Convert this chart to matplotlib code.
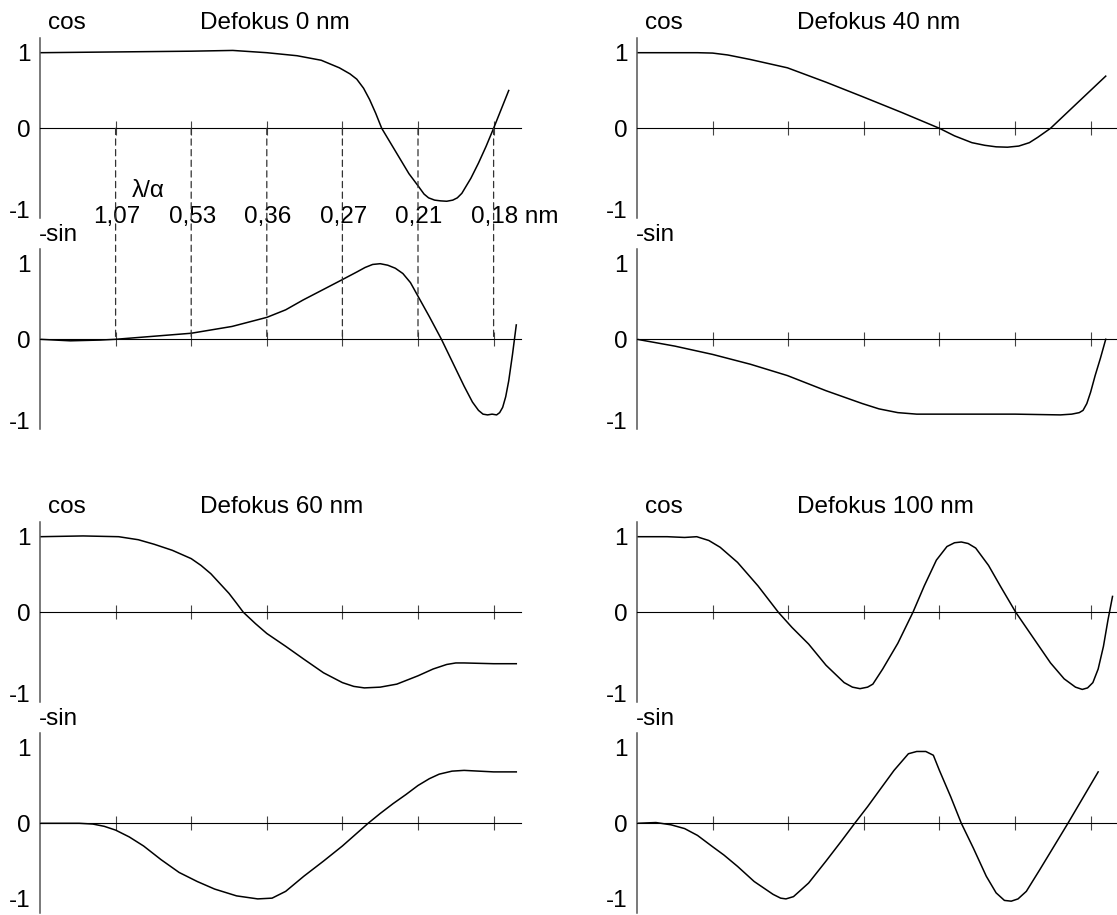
import matplotlib
matplotlib.use("Agg")
import matplotlib.pyplot as plt
from matplotlib.patches import ConnectionPatch

plt.rcParams['font.family'] = ['Liberation Sans', 'DejaVu Sans']
plt.rcParams['font.size'] = 17.5

# data (x in units of the tick spacing)
x_cos0 = [0, 1.0, 2.0, 2.55, 3.0, 3.4, 3.72, 3.96, 4.1, 4.19, 4.28, 4.36, 4.44, 4.52, 4.64, 4.76, 4.88, 5.0, 5.08,
          5.14, 5.22, 5.3, 5.38, 5.46, 5.52, 5.58, 5.7, 5.8, 5.9, 6.0, 6.1, 6.2]
y_cos0 = [1.0, 1.01, 1.02, 1.03, 1.0, 0.96, 0.90, 0.80, 0.72, 0.65, 0.53, 0.38, 0.2, 0.0, -0.2, -0.4, -0.6, -0.76, -0.87,
          -0.92, -0.95, -0.96, -0.965, -0.95, -0.92, -0.86, -0.66, -0.46, -0.24, 0.0, 0.25, 0.5]
x_sin0 = [0, 0.4, 0.8, 1.0, 1.5, 2.0, 2.54, 3.0, 3.25, 3.48, 3.75, 4.0, 4.19, 4.3, 4.4, 4.5, 4.6, 4.7, 4.8, 4.9, 5.0,
          5.15, 5.31, 5.46, 5.61, 5.72, 5.8, 5.86, 5.92, 5.98, 6.04, 6.08, 6.12, 6.16, 6.2, 6.25, 6.3]
y_sin0 = [0, -0.02, -0.01, 0, 0.04, 0.08, 0.17, 0.29, 0.39, 0.52, 0.66, 0.79, 0.89, 0.95, 0.99, 1.0, 0.98, 0.94, 0.87,
          0.75, 0.57, 0.3, 0.0, -0.31, -0.62, -0.83, -0.94, -0.99, -1.0, -0.99, -1.0, -0.97, -0.9, -0.76, -0.55, -0.2, 0.19]

x_cos40 = [0, 0.8, 1.0, 1.2, 1.5, 1.99, 2.5, 2.98, 3.5, 4.0, 4.2, 4.43, 4.6, 4.75, 4.9, 5.05, 5.19, 5.3, 5.47, 5.84, 6.2]
y_cos40 = [1.0, 1.0, 0.995, 0.97, 0.91, 0.80, 0.61, 0.42, 0.21, 0.0, -0.1, -0.19, -0.225, -0.245, -0.25, -0.235, -0.19,
           -0.12, 0.0, 0.35, 0.69]
x_sin40 = [0, 0.5, 1.0, 1.5, 1.99, 2.5, 2.98, 3.2, 3.45, 3.7, 4.0, 5.0, 5.6, 5.75, 5.85, 5.9, 5.95, 6.0, 6.06, 6.13, 6.2]
y_sin40 = [0, -0.09, -0.20, -0.33, -0.48, -0.68, -0.85, -0.92, -0.97, -0.99, -0.99, -0.99, -1.0, -0.99, -0.97, -0.94,
           -0.85, -0.7, -0.48, -0.25, 0.0]

x_cos60 = [0, 0.57, 1.04, 1.3, 1.51, 1.75, 2.0, 2.13, 2.26, 2.38, 2.5, 2.6, 2.69, 2.85, 3.0, 3.25, 3.49, 3.75, 4.0, 4.15,
           4.29, 4.5, 4.72, 5.0, 5.2, 5.38, 5.5, 5.61, 6.0, 6.3]
y_cos60 = [1.0, 1.01, 1.0, 0.96, 0.90, 0.82, 0.71, 0.62, 0.51, 0.38, 0.25, 0.12, 0.0, -0.15, -0.28, -0.45, -0.62, -0.8,
           -0.93, -0.98, -1.0, -0.99, -0.95, -0.84, -0.75, -0.69, -0.67, -0.67, -0.68, -0.68]
x_sin60 = [0, 0.52, 0.7, 0.85, 1.0, 1.18, 1.37, 1.6, 1.84, 2.08, 2.31, 2.6, 2.88, 3.07, 3.25, 3.49, 3.75, 4.0, 4.17,
           4.34, 4.5, 4.67, 4.84, 5.0, 5.15, 5.28, 5.45, 5.61, 6.0, 6.3]
y_sin60 = [0, 0, -0.01, -0.04, -0.09, -0.18, -0.30, -0.48, -0.65, -0.77, -0.87, -0.96, -1.0, -0.99, -0.9, -0.70, -0.5,
           -0.30, -0.15, 0.0, 0.13, 0.26, 0.38, 0.50, 0.59, 0.65, 0.69, 0.70, 0.68, 0.68]

x_cos100 = [0, 0.4, 0.63, 0.79, 0.95, 1.1, 1.33, 1.6, 1.87, 2.05, 2.27, 2.5, 2.74, 2.85, 2.95, 3.05, 3.12, 3.25, 3.45,
            3.65, 3.8, 3.96, 4.1, 4.2, 4.29, 4.38, 4.48, 4.65, 4.81, 5.01, 5.25, 5.47, 5.65, 5.8, 5.89, 5.96, 6.03, 6.1,
            6.17, 6.23, 6.29]
y_cos100 = [1.0, 1.0, 0.99, 1.0, 0.95, 0.86, 0.66, 0.35, 0.0, -0.2, -0.42, -0.7, -0.93, -0.99, -1.01, -0.99, -0.95,
            -0.75, -0.41, 0.0, 0.35, 0.69, 0.87, 0.92, 0.93, 0.91, 0.85, 0.62, 0.34, 0.0, -0.35, -0.67, -0.88, -0.99,
            -1.02, -1.0, -0.93, -0.75, -0.45, -0.1, 0.21]
x_sin100 = [0, 0.25, 0.45, 0.63, 0.8, 1.0, 1.15, 1.33, 1.55, 1.80, 1.9, 1.97, 2.07, 2.27, 2.5, 2.7, 2.88, 3.05, 3.21,
            3.4, 3.59, 3.7, 3.82, 3.92, 4.0, 4.15, 4.29, 4.45, 4.62, 4.75, 4.86, 4.95, 5.04, 5.15, 5.33, 5.5, 5.70,
            5.9, 6.10]
y_sin100 = [0, 0.01, -0.02, -0.07, -0.16, -0.31, -0.42, -0.57, -0.77, -0.94, -0.99, -1.0, -0.97, -0.79, -0.5, -0.24,
            0.0, 0.22, 0.44, 0.7, 0.92, 0.95, 0.95, 0.90, 0.7, 0.35, 0.0, -0.33, -0.70, -0.92, -1.02, -1.03, -1.0,
            -0.9, -0.61, -0.33, 0.0, 0.34, 0.68]

titles = ['Defokus 0 nm', 'Defokus 40 nm', 'Defokus 60 nm', 'Defokus 100 nm']
tick_pos = [1, 2, 3, 4, 5, 6]
lambda_labels = ['1,07', '0,53', '0,36', '0,27', '0,21', '0,18 nm']

W, H = 1117, 915
unit = 75.6  # pixels per data unit
xmax, ymax = 6.36, 1.19

fig = plt.figure(figsize=(W / 100, H / 100), dpi=100)


def make_ax(x0, zero_y, low_label=-1.08):
    top = zero_y - ymax * unit
    w = xmax * unit
    h = 2 * ymax * unit
    ax = fig.add_axes([x0 / W, 1 - (top + h) / H, w / W, h / H])
    ax.set_xlim(0, xmax)
    ax.set_ylim(-ymax, ymax)
    for s in ['top', 'right']:
        ax.spines[s].set_visible(False)
    ax.spines['bottom'].set_position(('data', 0))
    ax.spines['bottom'].set_linewidth(0.8)
    ax.spines['left'].set_color('#555555')
    ax.spines['left'].set_linewidth(1.1)
    ax.set_xticks(tick_pos)
    ax.set_xticklabels([])
    ax.tick_params(axis='x', direction='inout', length=10, width=0.8, color='#444444')
    ax.set_yticks([1, 0, low_label])
    ax.set_yticklabels(['1', '0', '-1'])
    ax.tick_params(axis='y', length=0, pad=7)
    ax.patch.set_visible(False)
    return ax


curves = [
    (x_cos0, y_cos0, x_sin0, y_sin0),
    (x_cos40, y_cos40, x_sin40, y_sin40),
    (x_cos60, y_cos60, x_sin60, y_sin60),
    (x_cos100, y_cos100, x_sin100, y_sin100),
]
lefts = [40, 637, 40, 637]
zeros = [(128.3, 339.3), (128.3, 339.3), (612.3, 823.3), (612.3, 823.3)]

axes = []
for i in range(4):
    xc, yc, xs, ys = curves[i]
    ax_c = make_ax(lefts[i], zeros[i][0])
    # bottom row: keep the lowest "-1" inside the picture
    ax_s = make_ax(lefts[i], zeros[i][1], -1.0 if i >= 2 else -1.08)
    ax_c.plot(xc, yc, color='black', lw=1.1, solid_joinstyle='round')
    ax_s.plot(xs, ys, color='black', lw=1.1, solid_joinstyle='round')
    ax_c.text(0.1, 1.39, 'cos', ha='left', va='center', clip_on=False)
    ax_c.text(2.11, 1.39, titles[i], ha='left', va='center', clip_on=False)
    ax_s.text(-0.01, 1.38, '-sin', ha='left', va='center', clip_on=False)
    axes.append((ax_c, ax_s))

# dashed guide lines and lambda/alpha labels in the first panel
ax_c, ax_s = axes[0]
for t in tick_pos:
    con = ConnectionPatch(xyA=(t, 0), coordsA=ax_c.transData,
                          xyB=(t, 0), coordsB=ax_s.transData,
                          linestyle=(0, (5, 3.5)), lw=0.9, color='#333333')
    fig.add_artist(con)
for t, lab in zip(tick_pos, lambda_labels):
    ax_c.text(t - 0.3, -1.17, lab, ha='left', va='center', clip_on=False)
ax_c.text(1.435, -0.825, 'λ/α', ha='center', va='center', clip_on=False)

fig.savefig('out.png', dpi=100)
